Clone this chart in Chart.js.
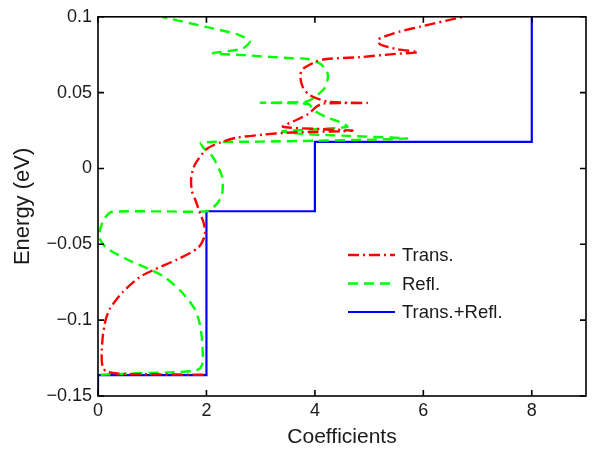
<!DOCTYPE html>
<html>
<head>
<meta charset="utf-8">
<script src="https://cdn.jsdelivr.net/npm/chart.js@4/dist/chart.umd.min.js"></script>
<style>
  body { margin: 0; background: #fff; }
  canvas { display: block; }
</style>
</head>
<body>
<canvas id="coefChart" width="600" height="451"></canvas>
<script>
// tick values and labels
var xTicks = [0, 2, 4, 6, 8];
var xTickLabels = ['0', '2', '4', '6', '8'];
var yTicks = [-0.15, -0.1, -0.05, 0, 0.05, 0.1];
var yTickLabels = ['\u22120.15', '\u22120.1', '\u22120.05', '0', '0.05', '0.1'];

// Trans.
var transC = [1.95, 1.00, 0.35, 0.15, 0.09, 0.07, 0.07, 0.09, 0.14, 0.22, 0.46, 0.77, 1.01, 1.46, 1.85, 1.97,
    1.95, 1.88, 1.80, 1.73, 1.72, 1.79, 2.01, 2.25, 2.56, 3.04, 3.50, 4.04, 4.50, 4.69, 4.10, 3.41,
    3.60, 3.88, 4.02, 4.15, 4.96, 4.25, 3.91, 3.78, 3.73, 3.78, 4.04, 4.22, 4.83, 5.44, 5.90, 5.52,
    5.20, 5.17, 5.39, 5.57, 5.94, 6.73];
var transE = [-0.1360, -0.1357, -0.1352, -0.1338, -0.1310, -0.1270, -0.1200, -0.1100, -0.1000, -0.0924,
    -0.0813, -0.0716, -0.0671, -0.0600, -0.0522, -0.0440, -0.0360, -0.0295, -0.0211, -0.0146, -0.0060,
    0.0028, 0.0130, 0.0171, 0.0203, 0.0223, 0.0236, 0.0242, 0.0245, 0.0250, 0.0260, 0.0275, 0.0310,
    0.0360, 0.0405, 0.0428, 0.0432, 0.0440, 0.0482, 0.0534, 0.0611, 0.0657, 0.0708, 0.0722, 0.0734,
    0.0754, 0.0767, 0.0786, 0.0819, 0.0851, 0.0883, 0.0903, 0.0935, 0.1000];

// Refl.
var reflC = [0.05, 0.60, 1.30, 1.75, 1.88, 1.93, 1.93, 1.91, 1.86, 1.78, 1.54, 1.23, 0.99, 0.54, 0.15, 0.03,
    0.04, 0.12, 0.25, 1.20, 2.02, 2.20, 2.29, 2.29, 2.12, 1.94, 1.90, 3.00, 4.00, 5.00, 5.70, 4.60,
    3.70, 3.40, 3.95, 4.60, 4.50, 4.20, 3.98, 3.88, 3.00, 3.85, 4.04, 4.19, 4.24, 4.22, 4.10, 3.87,
    3.50, 2.71, 2.12, 2.66, 2.80, 2.58, 1.97, 1.18];
var reflE = [-0.1360, -0.1352, -0.1345, -0.1335, -0.1318, -0.1280, -0.1200, -0.1100, -0.1000, -0.0924,
    -0.0813, -0.0716, -0.0671, -0.0600, -0.0522, -0.0460, -0.0400, -0.0330, -0.0287, -0.0283, -0.0280,
    -0.0230, -0.0166, -0.0056, 0.0074, 0.0139, 0.0171, 0.0177, 0.0183, 0.0190, 0.0198, 0.0215, 0.0230,
    0.0245, 0.0258, 0.0275, 0.0300, 0.0340, 0.0385, 0.0425, 0.0433, 0.0442, 0.0482, 0.0534, 0.0600,
    0.0640, 0.0690, 0.0722, 0.0728, 0.0747, 0.0760, 0.0790, 0.0838, 0.0883, 0.0935, 0.1000];

// Trans.+Refl.
var totalC = [0, 0, 2, 2, 4, 4, 8, 8];
var totalE = [-0.15, -0.1362, -0.1362, -0.0282, -0.0282, 0.0175, 0.0175, 0.1];

var seriesNames = ['Trans.', 'Refl.', 'Trans.+Refl.'];

function toPoints(cs, es) {
    var pts = [];
    for (var i = 0; i < cs.length; i++) {
        pts.push({ x: cs[i], y: es[i] });
    }
    return pts;
}

var FONT = '"Liberation Sans", Arial, Helvetica, sans-serif';
var TEXT = '#1a1a1a';

// frame, inward ticks and the legend inside the plot
var framePlugin = {
    id: 'frame',
    afterDraw: function(chart) {
        var ctx = chart.ctx;
        var a = chart.chartArea;
        var xs = chart.scales.x, ys = chart.scales.y;
        var tl = 6;
        ctx.save();
        ctx.strokeStyle = '#000';
        ctx.lineWidth = 1.6;
        ctx.setLineDash([]);
        ctx.strokeRect(a.left, a.top, a.right - a.left, a.bottom - a.top);
        ctx.beginPath();
        xTicks.forEach(function(v) {
            var px = xs.getPixelForValue(v);
            ctx.moveTo(px, a.bottom); ctx.lineTo(px, a.bottom - tl);
            ctx.moveTo(px, a.top); ctx.lineTo(px, a.top + tl);
        });
        yTicks.forEach(function(v) {
            var py = ys.getPixelForValue(v);
            ctx.moveTo(a.left, py); ctx.lineTo(a.left + tl, py);
            ctx.moveTo(a.right, py); ctx.lineTo(a.right - tl, py);
        });
        ctx.stroke();

        // legend
        var lx = 348, lw = 47, ly = 255, step = 28.5;
        ctx.font = '18.5px ' + FONT;
        ctx.textBaseline = 'middle';
        ctx.textAlign = 'left';
        chart.data.datasets.forEach(function(ds, i) {
            var y = ly + i * step;
            ctx.strokeStyle = ds.borderColor;
            ctx.lineWidth = ds.borderWidth;
            ctx.setLineDash(ds.borderDash || []);
            ctx.beginPath();
            ctx.moveTo(lx, y);
            ctx.lineTo(lx + lw, y);
            ctx.stroke();
            ctx.fillStyle = TEXT;
            ctx.fillText(ds.label, lx + lw + 7, y + 1);
        });
        ctx.restore();
    }
};

document.addEventListener('DOMContentLoaded', function() {
    var ctx = document.getElementById('coefChart').getContext('2d');
    new Chart(ctx, {
        type: 'scatter',
        data: {
            datasets: [{
                label: seriesNames[0],
                data: toPoints(transC, transE),
                showLine: true,
                borderColor: '#ff0000',
                borderWidth: 2.4,
                borderDash: [11, 4, 2, 4],
                pointRadius: 0,
                tension: 0.25
            }, {
                label: seriesNames[1],
                data: toPoints(reflC, reflE),
                showLine: true,
                borderColor: '#00ff00',
                borderWidth: 2.4,
                borderDash: [10, 6],
                pointRadius: 0,
                tension: 0.25
            }, {
                label: seriesNames[2],
                data: toPoints(totalC, totalE),
                showLine: true,
                borderColor: '#0000ff',
                borderWidth: 2.2,
                pointRadius: 0,
                tension: 0
            }]
        },
        options: {
            responsive: false,
            animation: false,
            layout: { padding: { left: 0, right: 14, top: 10, bottom: 0 } },
            plugins: {
                legend: { display: false },
                tooltip: { enabled: false }
            },
            scales: {
                x: {
                    type: 'linear',
                    min: 0,
                    max: 9,
                    afterBuildTicks: function(scale) {
                        scale.ticks = xTicks.map(function(v) { return { value: v }; });
                    },
                    afterFit: function(scale) { scale.height = 55; },
                    grid: { display: false, drawTicks: false },
                    border: { display: false },
                    ticks: {
                        font: { family: FONT, size: 18 },
                        color: TEXT,
                        padding: 4,
                        maxRotation: 0,
                        callback: function(value, index) { return xTickLabels[index]; }
                    },
                    title: {
                        display: true,
                        text: 'Coefficients',
                        font: { family: FONT, size: 21 },
                        color: TEXT,
                        padding: { top: 0, bottom: 1 }
                    }
                },
                y: {
                    type: 'linear',
                    min: -0.15,
                    max: 0.1,
                    afterBuildTicks: function(scale) {
                        scale.ticks = yTicks.map(function(v) { return { value: v }; });
                    },
                    afterFit: function(scale) { scale.width = 98; },
                    grid: { display: false, drawTicks: false },
                    border: { display: false },
                    ticks: {
                        font: { family: FONT, size: 18 },
                        color: TEXT,
                        padding: 6,
                        callback: function(value, index) { return yTickLabels[index]; }
                    },
                    title: {
                        display: true,
                        text: 'Energy (eV)',
                        font: { family: FONT, size: 22 },
                        color: TEXT,
                        padding: { top: 10, bottom: 0 }
                    }
                }
            }
        },
        plugins: [framePlugin]
    });
});
</script>
</body>
</html>
